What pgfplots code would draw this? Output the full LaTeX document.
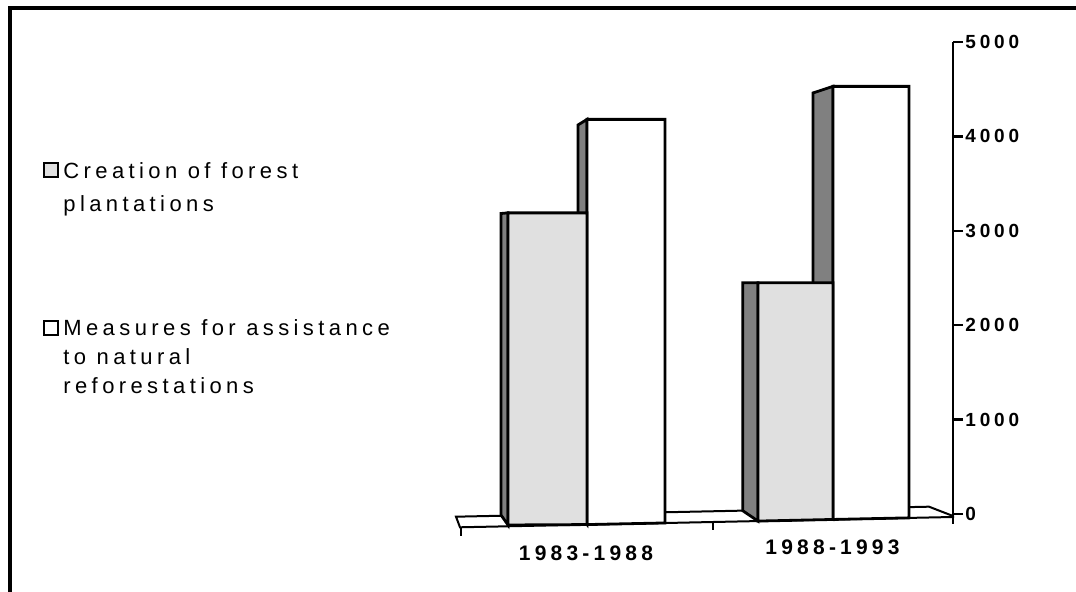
\documentclass[border=0pt]{standalone}
\usepackage{fontspec}
\setmainfont{Liberation Sans}
\newfontfamily\spacedfont[LetterSpace=20]{Liberation Sans}
\usepackage{pgfplots}
\pgfplotsset{compat=1.18}
\definecolor{frontgray}{HTML}{E0E0E0}
\definecolor{sidegray}{HTML}{808080}
\begin{document}
\begin{tikzpicture}[x=1pt,y=1pt]
\useasboundingbox (0,0) rectangle (538,296);
\draw[line width=2pt] (5,-3) -- (5,292) -- (541,292);
\begin{axis}[
  at={(230pt,39pt)}, anchor=south west,
  scale only axis, width=246.5pt, height=236pt,
  xmin=460, xmax=953, ymin=0, ymax=5000,
  clip=false,
  axis x line=none,
  axis y line*=right,
  axis line style={-},
  y axis line style={line width=1.2pt, shorten <=-5pt},
  ytick={0,1000,2000,3000,4000,5000},
  major tick length=5pt,
  tick align=outside,
  y tick style={line width=1.2pt, black},
  yticklabel style={font=\spacedfont\bfseries\fontsize{9.5}{11}\selectfont, inner sep=1pt},
  /pgf/number format/assume math mode=true,
  /pgf/number format/1000 sep={},
]
% floor slab
\addplot[draw=black, line width=1pt, fill=white, forget plot]
  coordinates {(456,-28.6) (929,77.3) (953,-21.2) (953,-31.8) (460,-140.9)} --cycle;
% category tick marks on the front edge
\addplot[black, line width=1pt, forget plot] coordinates {(460.7,-140.9) (460.7,-233)};
\addplot[black, line width=1pt, forget plot] coordinates {(712.7,-84.7) (712.7,-174.8)};
% Measures for assistance to natural reforestations (white): 4180, 4530
\addplot[draw=black, line width=1.4pt, fill=sidegray, forget plot]
  coordinates {(578,-1) (587,-112) (587,4180) (578,4121)} --cycle;
\addplot[draw=black, line width=1.4pt, fill=white, forget plot]
  coordinates {(587,-112) (587,4180) (665,4180) (665,-95)} --cycle;
\addplot[draw=black, line width=1.4pt, fill=sidegray, forget plot]
  coordinates {(813,-5) (833,-58) (833,4530) (813,4460)} --cycle;
\addplot[draw=black, line width=1.4pt, fill=white, forget plot]
  coordinates {(833,-58) (833,4530) (909,4530) (909,-41)} --cycle;
% Creation of forest plantations (light gray): 3190, 2450
\addplot[draw=black, line width=1.4pt, fill=sidegray, forget plot]
  coordinates {(501,-10.6) (508,-116.5) (508,3190) (501,3183)} --cycle;
\addplot[draw=black, line width=1.4pt, fill=frontgray, forget plot]
  coordinates {(508,-116.5) (508,3190) (587,3190) (587,-112)} --cycle;
\addplot[draw=black, line width=1.4pt, fill=sidegray, forget plot]
  coordinates {(742.7,35) (758,-75) (758,2450) (742.7,2450)} --cycle;
\addplot[draw=black, line width=1.4pt, fill=frontgray, forget plot]
  coordinates {(758,-75) (758,2450) (833,2450) (833,-58)} --cycle;
% category labels
\node[font=\spacedfont\bfseries\fontsize{10.5}{12}\selectfont] at (axis cs:586,-413) {1983-1988};
\node[font=\spacedfont\bfseries\fontsize{10.5}{12}\selectfont] at (axis cs:832.5,-355) {1988-1993};
\end{axis}
% legend
\draw[line width=1pt, fill=frontgray] (22,207.5) rectangle (29,214.5);
\draw[line width=1pt, fill=white] (22,128.5) rectangle (29,135.5);
\begin{scope}[every node/.style={anchor=base west, inner sep=0pt, font=\spacedfont\fontsize{11}{13}\selectfont}]
\node at (31.5,206.5) {Creation of forest};
\node at (31.5,190) {plantations};
\node at (31.5,128) {Measures for assistance};
\node at (31.5,113.5) {to natural};
\node at (31.5,99) {reforestations};
\end{scope}
\end{tikzpicture}
\end{document}
